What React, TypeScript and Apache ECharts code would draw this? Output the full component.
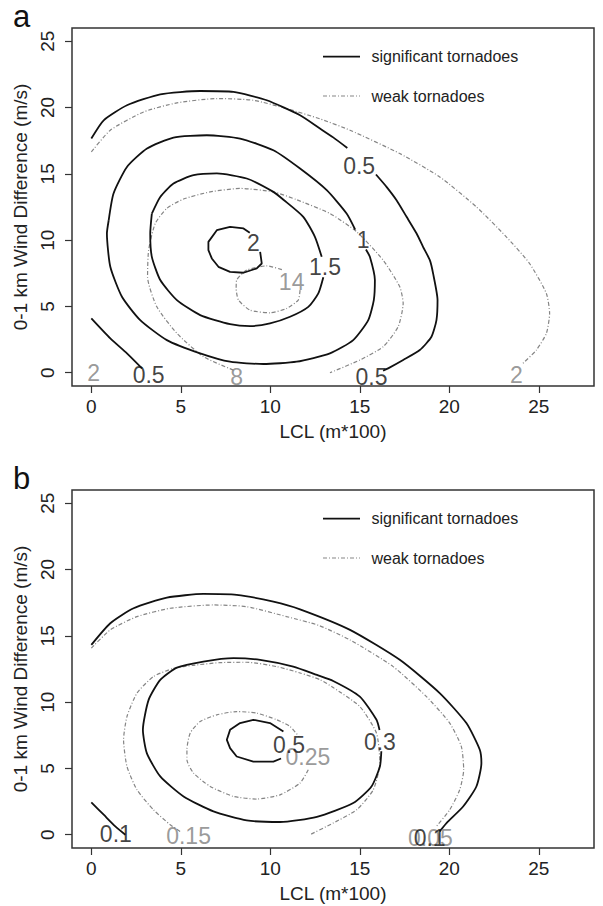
import React, { useEffect, useRef } from "react";
import * as echarts from "echarts";

const FONT = '"Liberation Sans", Arial, Helvetica, sans-serif';

// axes
const xTicks = [0, 5, 10, 15, 20, 25];
const yTicks = [0, 5, 10, 15, 20, 25];
const xRange = [-1.08, 28.08];
const yRange = [-1, 26];
const xTitle = "LCL (m*100)";
const yTitle = "0-1 km Wind Difference (m/s)";
const legendNames = ["significant tornadoes", "weak tornadoes"];
const panelNames = ["a", "b"];

type P = number[] | null;

// ---------- panel a : significant tornadoes (solid) ----------
const sigA_05: P[] = [
  [0, 17.66], [0.69, 19.04], [1.99, 20.17], [3.85, 21.0], [6.08, 21.25], [7.94, 21.18], [9.8, 20.55],
  [11.66, 19.42], [12.77, 18.42], [13.51, 17.75], [14.3, 16.95], null,
  [15.9, 14.95], [16.49, 14.02], [17.05, 13.01], [17.61, 11.76], [18.17, 10.5], [18.53, 9.5], [18.91, 8.49],
  [19.09, 7.49], [19.34, 5.48], [19.28, 3.97], [19.0, 2.71], [18.35, 1.71], [17.42, 0.96], [16.58, 0.33],
  [16.3, 0.15], null,
  [0, 4.1], [1.06, 2.59], [1.99, 1.46], [2.83, 0.33],
];
const sigA_1: P[] = [
  [0.97, 11.5], [1.24, 13.52], [1.99, 15.52], [3.11, 16.91], [4.59, 17.74], [6.45, 17.91], [8.31, 17.66],
  [10.17, 16.78], [11.66, 15.4], [13.15, 13.77], [14.26, 12.01], [14.74, 10.8], null,
  [15.34, 9.3], [15.56, 8.74], [15.84, 6.99], [15.78, 5.48], [15.47, 3.97], [14.63, 2.46], [13.33, 1.46],
  [11.47, 0.83], [9.61, 0.66], [7.75, 0.83], [6.08, 1.46], [4.22, 2.46], [2.73, 3.97], [1.71, 5.73],
  [1.06, 7.99], [0.87, 10.5], [0.97, 11.5],
];
const sigA_15: P[] = [
  [3.38, 12.0], [3.85, 13.26], [4.59, 14.27], [5.71, 14.9], [7.01, 15.03], [8.68, 14.65], [10.17, 13.64],
  [10.73, 13.05], [11.84, 11.76], [12.49, 10.25], [12.87, 8.74], null,
  [12.96, 7.2], [12.68, 5.98], [12.12, 4.97], [11.1, 4.22], [9.98, 3.72], [8.87, 3.52], [7.75, 3.67],
  [6.08, 4.35], [4.78, 5.48], [3.85, 6.99], [3.38, 8.74], [3.29, 10.5], [3.38, 12.0],
];
const sigA_2: P[] = [
  [9.43, 9.12], [9.52, 8.24], [9.24, 7.87], [8.5, 7.54], [7.75, 7.61], [7.1, 7.99], [6.73, 8.62],
  [6.54, 9.25], [6.54, 9.87], [7.01, 10.75], [7.75, 11.0], [8.5, 10.88], [8.85, 10.55],
];

// ---------- panel a : weak tornadoes (dash-dot) ----------
const weakA_2: P[] = [
  [0, 16.65], [1.06, 18.29], [2.92, 19.67], [4.78, 20.35], [7.01, 20.68], [9.05, 20.55], [10.91, 19.92],
  [12.77, 19.15], [14.45, 18.29], [17.23, 16.53], [19.46, 14.77], [21.51, 12.51], [23.18, 10.25],
  [24.48, 8.24], [25.42, 5.98], [25.6, 4.47], [25.42, 2.97], [24.86, 1.71], [24.11, 0.71],
];
const weakA_8: P[] = [
  [7.94, 0.2], [6.26, 1.21], [4.78, 2.97], [3.66, 4.97], [3.14, 7.23], [3.2, 9.25], [3.57, 11.26],
  [4.22, 12.4], [5.15, 13.1], [6.64, 13.64], [8.31, 13.9], [10.17, 13.64], [11.47, 13.05], [13.33, 12.01],
  [14.82, 10.63], [16.3, 8.49], [17.23, 6.48], [17.42, 5.23], [17.14, 3.47], [16.3, 1.96], [15.0, 0.96],
  [13.33, 0.0],
];
const weakA_14: P[] = [
  [11.66, 6.23], [11.56, 5.48], [10.91, 4.85], [9.98, 4.52], [8.87, 4.72], [8.22, 5.48], [8.09, 6.36],
  [8.12, 6.99], [8.68, 7.74], [9.8, 8.06], [10.73, 7.74],
];

// ---------- panel b : significant tornadoes ----------
const sigB_01: P[] = [
  [0, 14.32], [1.06, 15.95], [2.36, 17.08], [4.22, 17.88], [6.26, 18.16], [8.12, 18.09], [10.17, 17.58],
  [11.66, 17.0], [14.45, 15.45], [17.23, 13.19], [19.46, 10.68], [20.95, 8.42], [21.7, 6.41], [21.79, 5.4],
  [21.51, 3.64], [20.77, 2.13], [19.84, 0.88], [19.46, 0.25], null,
  [0, 2.44], [0.69, 1.51], [1.34, 0.63], [1.9, 0],
];
const sigB_03: P[] = [
  [16.2, 6.3], [16.12, 5.15], [15.65, 3.64], [14.63, 2.39], [12.6, 1.35], [10.54, 0.96], [8.68, 1.08],
  [6.82, 1.76], [5.15, 2.89], [3.85, 4.4], [3.1, 6.16], [2.88, 7.91], [3.2, 10.17], [3.85, 11.68],
  [4.78, 12.6], [6.26, 13.06], [7.94, 13.32], [9.43, 13.19], [11.28, 12.68], [12.6, 12.05], [13.51, 11.6],
  [15.0, 10.42], [15.93, 8.67], [16.1, 7.9],
];
const sigB_05: P[] = [
  [10.6, 5.75], [10.17, 5.52], [9.05, 5.52], [8.12, 5.9], [7.75, 6.53], [7.57, 7.16], [7.75, 7.91],
  [8.31, 8.42], [9.05, 8.67], [9.98, 8.42], [10.73, 7.78],
];

// ---------- panel b : weak tornadoes ----------
const weakB_005: P[] = [
  [0, 14.07], [1.06, 15.45], [2.55, 16.45], [4.41, 17.08], [6.82, 17.33], [8.68, 17.2], [10.91, 16.45],
  [12.68, 15.8], [14.45, 14.69], [16.86, 12.68], [18.72, 10.42], [20.02, 8.42], [20.67, 6.65], [20.8, 4.9],
  [20.58, 3.39], [20.02, 1.88], [19.28, 0.63],
];
const weakB_015: P[] = [
  [4.96, 0.25], [4.41, 0.75], [3.47, 1.88], [2.55, 3.39], [1.99, 5.15], [1.8, 7.16], [1.99, 8.91],
  [2.55, 10.68], [3.47, 11.93], [4.59, 12.55], [5.71, 12.78], [7.19, 12.98], [8.68, 13.01], [10.36, 12.68],
  [11.66, 12.2], [12.77, 11.7], [13.51, 11.1], [15.0, 9.67], [15.93, 7.66], [16.12, 5.4], [15.75, 3.39],
  [14.82, 1.88], [13.51, 0.88], [12.21, 0.0],
];
const weakB_025: P[] = [
  [12.12, 4.9], [11.66, 3.9], [10.54, 3.01], [9.24, 2.69], [7.94, 2.89], [6.64, 3.64], [5.71, 4.65],
  [5.34, 5.65], [5.34, 6.41], [5.52, 7.66], [6.08, 8.54], [7.01, 9.04], [8.12, 9.29], [9.24, 9.17],
  [10.36, 8.67], [11.1, 8.16], [11.6, 7.4],
];

// contour labels [x, y, text]
const sigLabelsA: [number, number, string][] = [
  [14.96, 15.58, "0.5"], [15.19, 10.0, "1"], [13.05, 7.99, "1.5"], [9.05, 9.75, "2"],
  [3.2, -0.17, "0.5"], [15.65, -0.3, "0.5"],
];
const weakLabelsA: [number, number, string][] = [
  [11.19, 6.86, "14"], [8.12, -0.3, "8"], [0.13, -0.05, "2"], [23.74, -0.17, "2"],
];
const sigLabelsB: [number, number, string][] = [
  [11.04, 6.8, "0.5"], [16.12, 7.03, "0.3"], [1.37, 0.05, "0.1"], [18.9, -0.25, "0.1"],
];
const weakLabelsB: [number, number, string][] = [
  [12.1, 5.85, "0.25"], [5.43, -0.13, "0.15"], [18.94, -0.25, "0.05"],
];

const SIG_COLOR = "#111111";
const WEAK_COLOR = "#858585";
const WEAK_DASH = [4, 2, 1, 2];

function splitSegments(pts: P[]): number[][][] {
  const out: number[][][] = [];
  let cur: number[][] = [];
  for (const p of pts) {
    if (p === null) {
      if (cur.length) out.push(cur);
      cur = [];
    } else cur.push(p);
  }
  if (cur.length) out.push(cur);
  return out;
}

function contourSeries(pts: P[], idx: number, weak: boolean, smooth: number = 0.2) {
  return splitSegments(pts).map((seg) => ({
    type: "line",
    xAxisIndex: idx,
    yAxisIndex: idx,
    data: seg,
    showSymbol: false,
    symbol: "none",
    silent: true,
    smooth: smooth,
    z: weak ? 2 : 3,
    lineStyle: weak
      ? { color: WEAK_COLOR, width: 1.2, type: WEAK_DASH }
      : { color: SIG_COLOR, width: 1.8, type: "solid" },
  }));
}

function labelSeries(labels: [number, number, string][], idx: number, weak: boolean) {
  return {
    type: "scatter",
    xAxisIndex: idx,
    yAxisIndex: idx,
    symbolSize: 0,
    silent: true,
    z: weak ? 4 : 5,
    itemStyle: { color: "transparent" },
    data: labels.map(([x, y, t]) => ({ value: [x, y], name: t })),
    label: {
      show: true,
      position: "inside",
      formatter: "{b}",
      fontFamily: FONT,
      fontSize: 23,
      color: weak ? "#808080" : SIG_COLOR,
    },
  };
}

const GRID_LEFT = 72;
const GRID_W = 522;
const GRID_H = 358;
const GRID_TOPS = [28, 490];

function makeAxes() {
  const xAxis = GRID_TOPS.map((_, i) => ({
    type: "value",
    gridIndex: i,
    min: xRange[0],
    max: xRange[1],
    name: xTitle,
    nameLocation: "middle",
    nameGap: 36,
    nameTextStyle: { fontFamily: FONT, fontSize: 19, color: "#222" },
    axisLine: { show: false, onZero: false },
    splitLine: { show: false },
    axisTick: {
      show: true,
      length: 7,
      customValues: xTicks,
      lineStyle: { color: "#333", width: 1.2 },
    },
    axisLabel: {
      customValues: xTicks,
      margin: 11,
      fontFamily: FONT,
      fontSize: 19,
      color: "#222",
    },
  }));
  const yAxis = GRID_TOPS.map((_, i) => ({
    type: "value",
    gridIndex: i,
    min: yRange[0],
    max: yRange[1],
    name: yTitle,
    nameLocation: "middle",
    nameGap: 34,
    nameTextStyle: { fontFamily: FONT, fontSize: 19, color: "#222" },
    axisLine: { show: false, onZero: false },
    splitLine: { show: false },
    axisTick: {
      show: true,
      length: 7,
      customValues: yTicks,
      lineStyle: { color: "#333", width: 1.2 },
    },
    axisLabel: {
      customValues: yTicks,
      rotate: 90,
      margin: 15,
      fontFamily: FONT,
      fontSize: 19,
      color: "#222",
    },
  }));
  return { xAxis, yAxis };
}

function legendGraphics() {
  const els: any[] = [];
  GRID_TOPS.forEach((top, i) => {
    const y1 = top + 28.7;
    const y2 = top + 68;
    els.push(
      {
        type: "line",
        shape: { x1: 323, y1: y1, x2: 360, y2: y1 },
        style: { stroke: SIG_COLOR, lineWidth: 1.8 },
        silent: true,
      },
      {
        type: "text",
        x: 371.5,
        y: y1,
        style: {
          text: legendNames[0],
          fontFamily: FONT,
          fontSize: 16,
          fill: "#222",
          align: "left",
          verticalAlign: "middle",
        },
        silent: true,
      },
      {
        type: "line",
        shape: { x1: 323, y1: y2, x2: 360, y2: y2 },
        style: { stroke: WEAK_COLOR, lineWidth: 1.2, lineDash: WEAK_DASH },
        silent: true,
      },
      {
        type: "text",
        x: 371.5,
        y: y2,
        style: {
          text: legendNames[1],
          fontFamily: FONT,
          fontSize: 16,
          fill: "#222",
          align: "left",
          verticalAlign: "middle",
        },
        silent: true,
      },
      {
        type: "text",
        x: 13,
        y: top - 12,
        style: {
          text: panelNames[i],
          fontFamily: FONT,
          fontSize: 31,
          fill: "#111",
          align: "left",
          verticalAlign: "middle",
        },
        silent: true,
      }
    );
  });
  return els;
}

export default function App() {
  const ref = useRef<HTMLDivElement>(null);
  useEffect(() => {
    if (!ref.current) return;
    const chart = echarts.init(ref.current, null, { renderer: "svg" });
    const { xAxis, yAxis } = makeAxes();
    const series: any[] = [
      ...contourSeries(weakA_2, 0, true),
      ...contourSeries(weakA_8, 0, true),
      ...contourSeries(weakA_14, 0, true),
      ...contourSeries(sigA_05, 0, false),
      ...contourSeries(sigA_1, 0, false),
      ...contourSeries(sigA_15, 0, false),
      ...contourSeries(sigA_2, 0, false, 0),
      labelSeries(weakLabelsA, 0, true),
      labelSeries(sigLabelsA, 0, false),
      ...contourSeries(weakB_005, 1, true),
      ...contourSeries(weakB_015, 1, true),
      ...contourSeries(weakB_025, 1, true),
      ...contourSeries(sigB_01, 1, false),
      ...contourSeries(sigB_03, 1, false),
      ...contourSeries(sigB_05, 1, false, 0),
      labelSeries(weakLabelsB, 1, true),
      labelSeries(sigLabelsB, 1, false),
    ];
    chart.setOption({
      animation: false,
      backgroundColor: "#ffffff",
      grid: GRID_TOPS.map((top) => ({
        left: GRID_LEFT,
        top: top,
        width: GRID_W,
        height: GRID_H,
        show: true,
        borderColor: "#333",
        borderWidth: 1.5,
        backgroundColor: "transparent",
      })),
      xAxis,
      yAxis,
      series,
      graphic: legendGraphics(),
    });
    return () => chart.dispose();
  }, []);
  return (
    <div
      ref={ref}
      style={{ position: "absolute", left: 0, top: 0, width: 603, height: 906, background: "#fff" }}
    />
  );
}
